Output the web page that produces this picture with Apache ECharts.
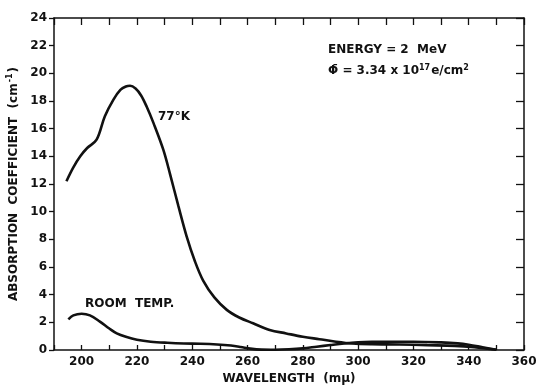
<!DOCTYPE html>
<html>
<head>
<meta charset="utf-8">
<script src="https://cdn.jsdelivr.net/npm/echarts@6/dist/echarts.min.js"></script>
<style>
html,body{margin:0;padding:0;background:#fff;}
#chart{width:539px;height:386px;}
</style>
</head>
<body>
<div id="chart"></div>
<script>
// 77°K curve
var wl77 = [194.5, 197, 199.5, 202, 205.4, 208.4, 211.5, 214, 216, 217.5, 219.5, 221.5, 223.5, 226, 229.5, 232, 235, 238, 241, 244, 248, 252.5, 257, 262, 268, 274, 280, 286, 292, 298, 305, 315, 325, 335, 342, 350];
var abs77 = [12.2, 13.2, 14.0, 14.6, 15.2, 16.9, 18.1, 18.8, 19.05, 19.1, 18.9, 18.4, 17.6, 16.4, 14.5, 12.7, 10.4, 8.2, 6.4, 5.0, 3.8, 2.9, 2.35, 1.93, 1.45, 1.2, 0.96, 0.78, 0.6, 0.47, 0.42, 0.4, 0.35, 0.3, 0.2, 0.02];
// room temperature curve
var wlRoom = [195.2, 197, 200, 203, 206.6, 210, 212.7, 216, 220, 225, 231, 237, 243, 249, 254, 257.5, 261, 265, 270, 275, 280, 285, 290, 295, 300, 305, 310, 320, 330, 336, 340, 345, 350];
var absRoom = [2.22, 2.5, 2.62, 2.5, 2.05, 1.55, 1.2, 0.95, 0.74, 0.6, 0.52, 0.47, 0.45, 0.4, 0.32, 0.22, 0.1, 0.03, 0.02, 0.05, 0.12, 0.24, 0.36, 0.47, 0.55, 0.59, 0.6, 0.6, 0.55, 0.48, 0.38, 0.2, 0.02];

var xTicks = [190, 360, 10];   // min, max, interval
var yTicks = [0, 24, 2];

function pairs(xs, ys) {
    var res = [];
    for (var i = 0; i < xs.length; i++) {
        res.push([xs[i], ys[i]]);
    }
    return res;
}

var font = 'DejaVu Sans';
var ink = '#111';

var myChart = echarts.init(document.getElementById('chart'));
var option = {
    backgroundColor: '#fff',
    animation: false,
    grid: {
        left: 54, right: 15, top: 18, bottom: 36,
        containLabel: false,
        outerBoundsMode: 'none'
    },
    xAxis: [
        {
            type: 'value',
            min: xTicks[0], max: xTicks[1], interval: xTicks[2],
            name: 'WAVELENGTH  (mμ)',
            nameLocation: 'middle',
            nameGap: 21,
            nameTextStyle: {fontFamily: font, fontWeight: 'bold', fontSize: 12, color: ink},
            axisLine: {onZero: false, lineStyle: {color: ink, width: 1.5}},
            axisTick: {inside: true, length: 5, lineStyle: {color: ink, width: 1.3}},
            axisLabel: {
                margin: 6,
                fontFamily: font, fontWeight: 'bold', fontSize: 12, color: ink,
                formatter: function (v) { return v % 20 === 0 ? String(v) : ''; }
            },
            splitLine: {show: false}
        },
        {
            type: 'value', position: 'top',
            min: xTicks[0], max: xTicks[1], interval: xTicks[2],
            axisLine: {onZero: false, lineStyle: {color: ink, width: 1.5}},
            axisTick: {inside: true, length: 7, lineStyle: {color: ink, width: 1.3}},
            axisLabel: {show: false},
            splitLine: {show: false}
        }
    ],
    yAxis: [
        {
            type: 'value',
            min: yTicks[0], max: yTicks[1], interval: yTicks[2],
            name: '{a|ABSORPTION  COEFFICIENT  (cm}{s|-1}{a|)}',
            nameLocation: 'middle',
            nameGap: 24,
            nameTextStyle: {
                rich: {
                    a: {fontFamily: font, fontWeight: 'bold', fontSize: 12, color: ink},
                    s: {fontFamily: font, fontWeight: 'bold', fontSize: 8, color: ink, verticalAlign: 'top', padding: [0, 1, 6, 1]}
                }
            },
            axisLine: {onZero: false, lineStyle: {color: ink, width: 1.5}},
            axisTick: {inside: false, length: 5, lineStyle: {color: ink, width: 1.3}},
            axisLabel: {margin: 7, fontFamily: font, fontWeight: 'bold', fontSize: 12, color: ink},
            splitLine: {show: false}
        },
        {
            type: 'value', position: 'right',
            min: yTicks[0], max: yTicks[1], interval: yTicks[2],
            axisLine: {onZero: false, lineStyle: {color: ink, width: 1.5}},
            axisTick: {inside: true, length: 8, lineStyle: {color: ink, width: 1.3}},
            axisLabel: {show: false},
            splitLine: {show: false}
        }
    ],
    series: [
        {
            name: '77°K',
            type: 'line',
            data: pairs(wl77, abs77),
            smooth: 0.35,
            symbol: 'none',
            lineStyle: {color: ink, width: 2.6}
        },
        {
            name: 'ROOM TEMP.',
            type: 'line',
            data: pairs(wlRoom, absRoom),
            smooth: 0.35,
            symbol: 'none',
            lineStyle: {color: ink, width: 2.6}
        }
    ],
    graphic: [
        {type: 'text', left: 158, top: 111, style: {text: '77°K', font: 'bold 12px ' + font, fill: ink}},
        {type: 'text', left: 85, top: 298, style: {text: 'ROOM  TEMP.', font: 'bold 12px ' + font, fill: ink}},
        {type: 'text', left: 328, top: 44, style: {text: 'ENERGY = 2  MeV', font: 'bold 12px ' + font, fill: ink}},
        {
            type: 'text', left: 328, top: 64,
            style: {
                text: '{a|Φ̄ = 3.34 x 10}{s|17}{a|e/cm}{s|2}',
                rich: {
                    a: {fontFamily: font, fontWeight: 'bold', fontSize: 12, fill: ink, color: ink},
                    s: {fontFamily: font, fontWeight: 'bold', fontSize: 8, fill: ink, color: ink, verticalAlign: 'top', padding: [0, 1, 6, 0]}
                }
            }
        }
    ]
};
myChart.setOption(option);
</script>
</body>
</html>
